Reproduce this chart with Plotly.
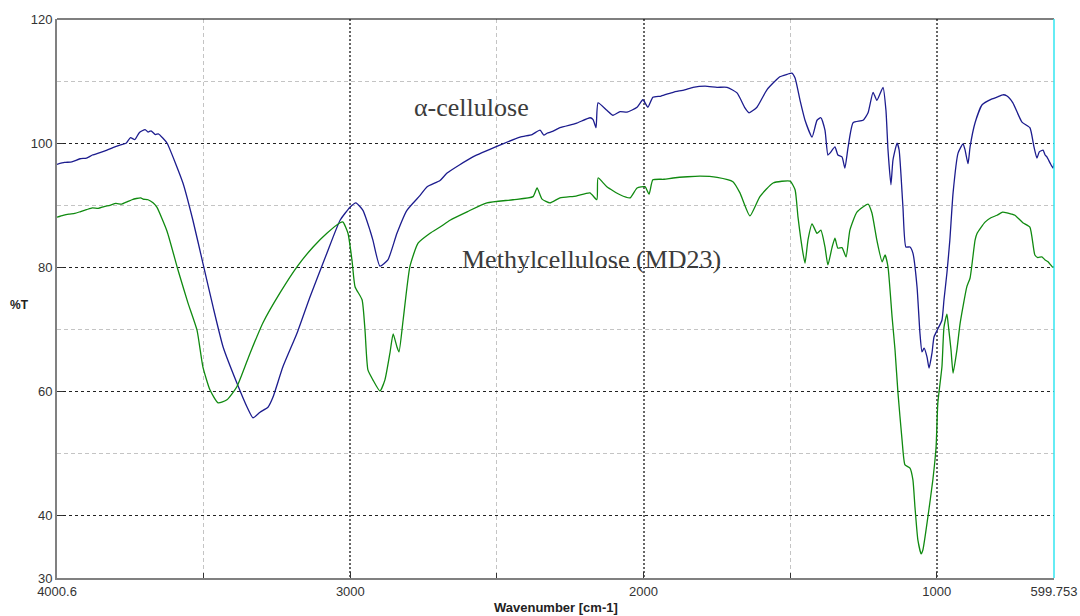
import plotly.graph_objects as go

# FT-IR transmittance spectra, wavenumber in cm-1, transmittance in %T
alpha_wn = [4000.6, 3975, 3950, 3922, 3900, 3880, 3854, 3830, 3810, 3786, 3765, 3750,
            3735, 3720, 3700, 3690, 3680, 3665, 3655, 3639, 3625, 3571, 3537, 3503,
            3468, 3434, 3387, 3352, 3332, 3308, 3281, 3264, 3230, 3182, 3138, 3080,
            3035, 3001, 2981, 2957, 2933, 2923, 2899, 2872, 2841, 2807, 2762, 2738,
            2694, 2670, 2582, 2490, 2421, 2380, 2353, 2340, 2329, 2310, 2285, 2230,
            2182, 2172, 2162, 2155, 2125, 2104, 2080, 2056, 2022, 2002, 1985, 1968,
            1940, 1899, 1860, 1831, 1790, 1749, 1715, 1681, 1654, 1640, 1613, 1579,
            1535, 1510, 1494, 1483, 1466, 1449, 1425, 1408, 1395, 1381, 1371, 1364,
            1347, 1337, 1323, 1313, 1302, 1285, 1251, 1234, 1217, 1204, 1183, 1173,
            1166, 1156, 1149, 1135, 1128, 1115, 1105, 1091, 1081, 1067, 1057, 1050,
            1043, 1033, 1026, 1016, 1009, 995, 982, 975, 965, 955, 944, 927, 910, 903,
            893, 886, 869, 845, 813, 790, 774, 760, 740, 709, 682, 668, 658, 650, 637,
            630, 624, 613, 603, 599.753]
alpha_t = [96.6, 96.9, 97.0, 97.5, 97.6, 98.1, 98.5, 98.9, 99.3, 99.7, 100.0, 100.9,
           100.6, 101.7, 102.2, 101.8, 102.0, 101.4, 101.5, 100.8, 100.0, 93.6, 87.6, 80.7,
           73.6, 67.2, 61.4, 57.5, 55.8, 56.7, 57.5, 59.1, 64.0, 69.4, 75.2, 82.3,
           87.6, 89.7, 90.4, 89.2, 86.0, 84.4, 80.2, 81.2, 85.5, 89.2, 91.6, 93.0,
           94.0, 95.2, 97.8, 99.7, 101.0, 101.4, 102.1, 101.3, 101.6, 101.9, 102.5, 103.2,
           104.1, 103.8, 102.5, 106.5, 105.3, 104.5, 105.1, 105.0, 105.8, 107.0, 105.8, 107.4,
           107.6, 108.2, 108.6, 109.0, 109.2, 109.0, 109.0, 108.1, 105.7, 104.9, 105.8, 108.6,
           110.7, 111.1, 111.3, 110.5, 106.9, 103.7, 101.0, 103.7, 104.1, 102.1, 98.1, 98.4,
           99.4, 98.1, 97.8, 96.0, 99.4, 103.3, 103.7, 104.9, 108.2, 106.9, 109.0, 105.3,
           98.9, 93.3, 97.3, 100.0, 98.9, 89.7, 83.3, 83.3, 82.3, 76.9, 69.4, 66.4,
           67.0, 65.6, 63.8, 66.2, 68.8, 70.2, 71.5, 74.8, 79.1, 84.4, 92.0, 98.4, 99.9, 98.9,
           96.7, 99.4, 103.3, 106.2, 107.1, 107.5, 107.8, 107.6, 106.5, 103.4, 102.5, 99.4, 97.6, 98.6, 98.9,
           98.1, 97.8, 96.8, 96.0, 96.8]

mc_wn = [4000.6, 3980, 3960, 3940, 3920, 3900, 3880, 3860, 3840, 3820, 3800, 3780,
         3760, 3745, 3730, 3715, 3707, 3690, 3673, 3660, 3625, 3591, 3581, 3554,
         3523, 3503, 3479, 3451, 3421, 3387, 3342, 3298, 3240, 3182, 3127, 3080,
         3035, 3025, 3008, 2994, 2984, 2960, 2950, 2940, 2923, 2899, 2882, 2865,
         2854, 2841, 2834, 2820, 2797, 2769, 2728, 2694, 2660, 2600, 2534, 2445,
         2377, 2363, 2346, 2319, 2285, 2230, 2183, 2159, 2155, 2125, 2080, 2046,
         2022, 1995, 1981, 1968, 1930, 1899, 1850, 1807, 1749, 1695, 1671, 1637,
         1603, 1558, 1500, 1483, 1473, 1456, 1449, 1439, 1425, 1408, 1395, 1381,
         1371, 1357, 1347, 1337, 1323, 1309, 1296, 1272, 1234, 1221, 1204, 1186,
         1176, 1166, 1152, 1142, 1132, 1118, 1108, 1091, 1081, 1074, 1064, 1053,
         1047, 1030, 1013, 1002, 996, 982, 975, 965, 961, 951, 944, 931, 920, 897,
         886, 869, 862, 835, 815, 794, 775, 760, 745, 733, 706, 682, 665, 655, 641,
         630, 620, 603, 599.753]
mc_t = [88.1, 88.4, 88.6, 88.7, 89.0, 89.3, 89.6, 89.5, 89.8, 90.0, 90.3, 90.2,
        90.6, 90.9, 91.1, 91.2, 91.0, 90.9, 90.4, 89.7, 85.8, 80.1, 78.5, 74.3,
        69.9, 64.0, 60.3, 58.2, 58.7, 60.8, 66.2, 71.1, 75.9, 80.1, 83.3, 85.5,
        87.2, 87.3, 85.5, 81.0, 76.9, 74.8, 69.9, 63.5, 61.9, 60.1, 61.9, 66.2,
        69.3, 67.2, 66.4, 71.5, 80.1, 83.9, 85.5, 86.5, 87.6, 89.0, 90.4, 90.9,
        91.4, 92.8, 91.0, 90.4, 91.2, 91.5, 92.0, 90.9, 94.4, 93.0, 91.7, 91.2,
        92.8, 93.0, 91.8, 94.1, 94.2, 94.4, 94.6, 94.7, 94.5, 93.8, 92.0, 88.3,
        91.4, 93.6, 93.9, 92.5, 88.1, 82.3, 80.7, 84.4, 87.0, 85.5, 86.0, 83.3,
        80.4, 83.2, 84.7, 83.1, 83.2, 81.7, 86.0, 88.9, 90.2, 88.8, 84.4, 80.9,
        82.0, 80.1, 72.0, 66.7, 59.8, 52.2, 48.2, 47.7, 45.8, 41.4, 36.1, 33.9,
        34.5, 39.8, 45.8, 51.1, 58.2, 64.0, 70.4, 72.5, 71.0, 66.7, 63.0, 66.7, 71.0, 76.9,
        78.3, 84.4, 85.5, 87.3, 88.0, 88.4, 88.9, 88.8, 88.6, 88.4, 87.2, 86.5, 82.0, 81.6, 81.7,
        81.2, 80.9, 80.0, 80.2]

x_tick_vals = [4000.6, 3000, 2000, 1000, 599.753]
x_tick_text = ["4000.6", "3000", "2000", "1000", "599.753"]
x_minor_vals = [3500, 2500, 1500]
y_tick_vals = [30, 40, 60, 80, 100, 120]
y_minor_vals = [50, 70, 90, 110]

label_alpha = "α-cellulose"
label_mc = "Methylcellulose (MD23)"
label_alpha_pos = (2587, 105.8)
label_mc_pos = (2177, 81.2)

fig = go.Figure()
fig.add_trace(go.Scatter(x=alpha_wn, y=alpha_t, mode="lines",
                         line=dict(color="#1c1c8e", width=1.3, shape="spline", smoothing=0.5),
                         name=label_alpha))
fig.add_trace(go.Scatter(x=mc_wn, y=mc_t, mode="lines",
                         line=dict(color="#108a10", width=1.3, shape="spline", smoothing=0.5),
                         name=label_mc))

tick_font = dict(family="Liberation Sans, Arial, sans-serif", size=13, color="#333333")

fig.update_layout(
    width=1080, height=616,
    margin=dict(l=57, r=26, t=19, b=38, autoexpand=False),
    paper_bgcolor="white", plot_bgcolor="white",
    showlegend=False,
    xaxis=dict(
        range=[4000.6, 599.753], autorange=False, automargin=False,
        tickmode="array", tickvals=x_tick_vals, ticktext=x_tick_text,
        showgrid=True, gridcolor="#666666", gridwidth=2, griddash="2px,2px",
        ticks="inside", ticklen=6, tickcolor="#333333",
        showline=True, linecolor="#808080", linewidth=2,
        zeroline=False, tickfont=tick_font,
        minor=dict(tickmode="array", tickvals=x_minor_vals, showgrid=True,
                   gridcolor="#c4c4c4", gridwidth=1, griddash="4px,3px",
                   ticks="inside", ticklen=5, tickcolor="#333333"),
    ),
    yaxis=dict(
        range=[30, 120], autorange=False, automargin=False,
        tickmode="array", tickvals=y_tick_vals,
        showgrid=True, gridcolor="#222222", gridwidth=1, griddash="3px,3px",
        ticks="inside", ticklen=6, tickcolor="#333333",
        showline=True, linecolor="#808080", linewidth=2,
        zeroline=False, tickfont=tick_font,
        minor=dict(tickmode="array", tickvals=y_minor_vals, showgrid=True,
                   gridcolor="#c4c4c4", gridwidth=1, griddash="4px,3px"),
    ),
    shapes=[
        dict(type="line", xref="paper", yref="paper", x0=0, x1=1, y0=1, y1=1,
             line=dict(color="#000000", width=1.2)),
        dict(type="line", xref="paper", yref="paper", x0=1, x1=1, y0=0, y1=1,
             line=dict(color="#33e6f0", width=1.5)),
    ],
    annotations=[
        dict(x=label_alpha_pos[0], y=label_alpha_pos[1], xref="x", yref="y",
             text=label_alpha, showarrow=False,
             font=dict(family="Liberation Serif, Times New Roman, serif", size=26, color="#3c3c3c")),
        dict(x=label_mc_pos[0], y=label_mc_pos[1], xref="x", yref="y",
             text=label_mc, showarrow=False,
             font=dict(family="Liberation Serif, Times New Roman, serif", size=26, color="#3c3c3c")),
        dict(x=-0.038, y=0.488, xref="paper", yref="paper", text="<b>%T</b>",
             showarrow=False, xanchor="center", yanchor="middle",
             font=dict(family="Liberation Sans, Arial, sans-serif", size=12, color="#222222")),
        dict(x=0.5, y=-0.053, xref="paper", yref="paper", text="<b>Wavenumber [cm-1]</b>",
             showarrow=False, xanchor="center", yanchor="middle",
             font=dict(family="Liberation Sans, Arial, sans-serif", size=13, color="#222222")),
    ],
)

fig.write_html("out.html")
